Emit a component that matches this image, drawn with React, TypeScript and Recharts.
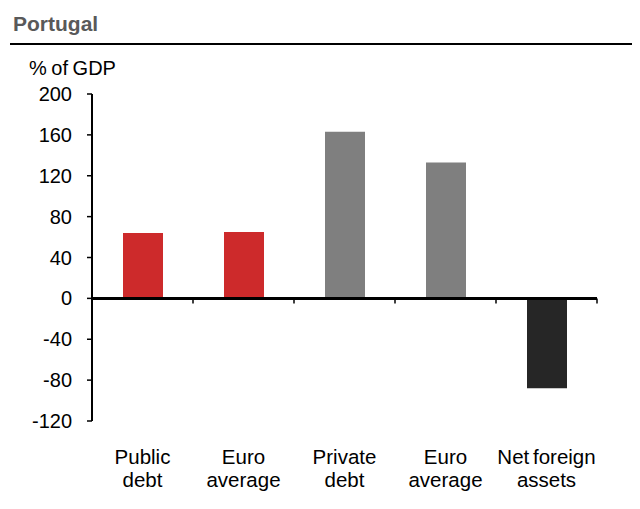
import { BarChart, Bar, XAxis, YAxis, Cell, ReferenceLine } from 'recharts'

const categoryKeys = ['public', 'euroPublic', 'private', 'euroPrivate', 'nfa']
const categoryLabels = [
  ['Public', 'debt'],
  ['Euro', 'average'],
  ['Private', 'debt'],
  ['Euro', 'average'],
  ['Net foreign', 'assets'],
]
const values = [64, 65, 163, 133, -88]
const barColors = ['#CD2A2B', '#CD2A2B', '#7F7F7F', '#7F7F7F', '#262626']
const yTicks = [-120, -80, -40, 0, 40, 80, 120, 160, 200]

const data = categoryKeys.map((key, i) => ({ key, value: values[i] }))

const FONT = '"Liberation Sans", Arial, sans-serif'

function CategoryTick({ x, y, payload }: { x?: number; y?: number; payload?: { value: string } }) {
  const idx = categoryKeys.indexOf(payload?.value ?? '')
  const lines = categoryLabels[idx] ?? []
  return (
    <text x={x} y={y} textAnchor="middle" fontSize={20.5} fill="#000" fontFamily={FONT} wordSpacing={-2}>
      {lines.map((line, i) => (
        <tspan key={i} x={x} y={(y ?? 0) + 43 + i * 23}>
          {line}
        </tspan>
      ))}
    </text>
  )
}

export default function App() {
  return (
    <div style={{ position: 'relative', width: 640, height: 509, margin: -8, fontFamily: FONT, background: '#fff' }}>
      <div
        style={{
          position: 'absolute', left: 13, top: 13, fontSize: 21, lineHeight: '21px',
          fontWeight: 'bold', color: '#595959',
        }}
      >
        Portugal
      </div>
      <div style={{ position: 'absolute', left: 10, right: 0, top: 43, height: 2, background: '#000' }} />
      <div style={{ position: 'absolute', left: 29, top: 58, fontSize: 20, lineHeight: '20px', color: '#000', wordSpacing: -1 }}>
        % of GDP
      </div>
      <div style={{ position: 'absolute', left: 0, top: 0 }}>
        <BarChart
          width={640}
          height={509}
          data={data}
          margin={{ top: 94, right: 43, bottom: 0, left: 0 }}
          barSize={40}
        >
          <XAxis
            dataKey="key"
            height={88}
            axisLine={false}
            tickLine={false}
            tickSize={0}
            tickMargin={0}
            interval={0}
            tick={<CategoryTick />}
          />
          <YAxis
            width={92}
            domain={[-120, 200]}
            ticks={yTicks}
            interval={0}
            axisLine={{ stroke: '#000', strokeWidth: 2 }}
            tickLine={{ stroke: '#000', strokeWidth: 1.5 }}
            tickSize={5}
            tickMargin={15}
            tick={{ fontSize: 20, fill: '#000', fontFamily: FONT }}
          />
          <Bar dataKey="value" isAnimationActive={false}>
            {data.map((d, i) => (
              <Cell key={d.key} fill={barColors[i]} />
            ))}
          </Bar>
          <ReferenceLine y={0} stroke="#000" strokeWidth={3} />
          {categoryKeys.slice(1).map((key) => (
            <ReferenceLine
              key={key}
              segment={[{ x: key, y: 0 }, { x: key, y: -5 }]}
              position="start"
              stroke="#000"
              strokeWidth={1.5}
            />
          ))}
          <ReferenceLine
            segment={[{ x: categoryKeys[4], y: 0 }, { x: categoryKeys[4], y: -5 }]}
            position="end"
            stroke="#000"
            strokeWidth={1.5}
          />
        </BarChart>
      </div>
    </div>
  )
}
